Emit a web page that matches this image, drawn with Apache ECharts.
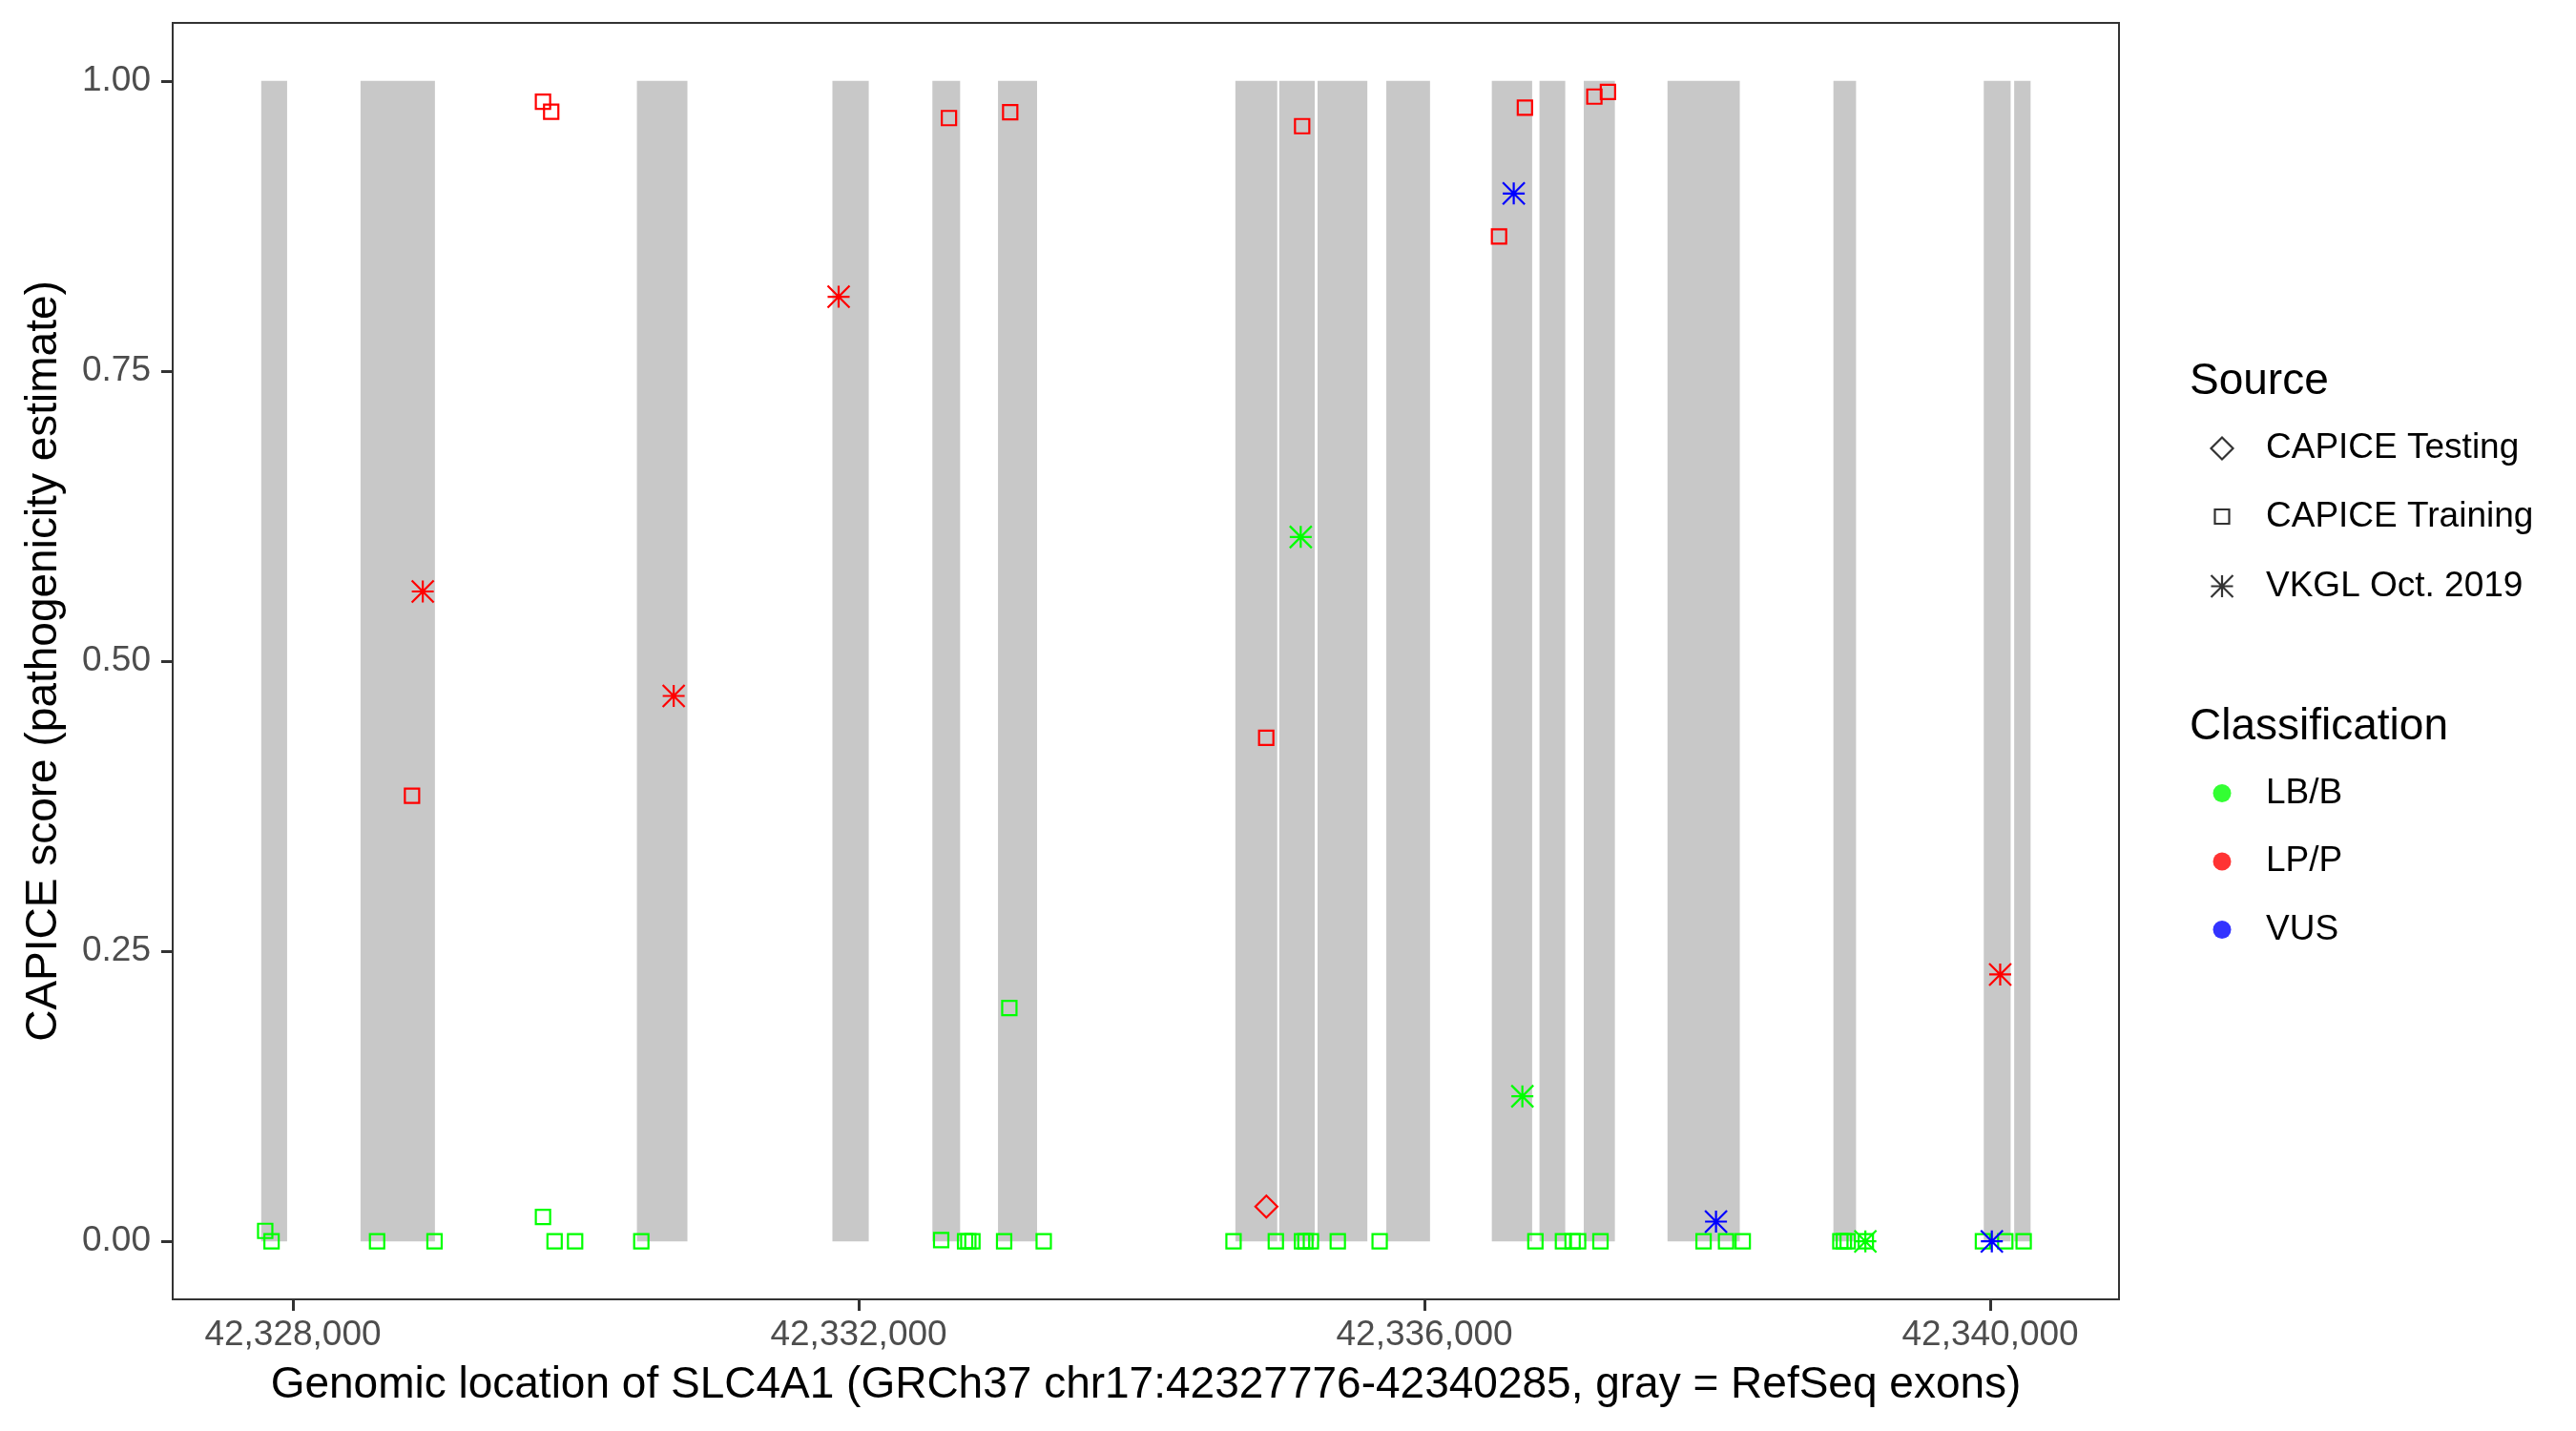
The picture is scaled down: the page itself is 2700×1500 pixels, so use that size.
<!DOCTYPE html>
<html>
<head>
<meta charset="utf-8">
<script src="https://cdn.jsdelivr.net/npm/echarts@6/dist/echarts.min.js"></script>
<style>
html,body{margin:0;padding:0;background:#ffffff;}
#chart{width:2700px;height:1500px;}
</style>
</head>
<body>
<div id="chart"></div>
<script>
// ---------------- data ----------------
const exonStarts = [42327776, 42328478, 42330432, 42331814, 42332521, 42332985, 42334663, 42334973, 42335244, 42335730, 42336476, 42336813, 42337126, 42337718, 42338891, 42339954, 42340169];
const exonEnds   = [42327959, 42329004, 42330789, 42332071, 42332717, 42333261, 42334959, 42335224, 42335596, 42336039, 42336761, 42336995, 42337346, 42338229, 42339051, 42340144, 42340285];

// CAPICE Training, LB/B
const trainingBenignPos = [42327804, 42327849, 42328595, 42329001, 42329768, 42329850, 42329995, 42330463, 42332583, 42332752, 42332775, 42332804, 42333028, 42333065, 42333308, 42334650, 42334949, 42335134, 42335158, 42335197, 42335387, 42335683, 42336784, 42336979, 42337047, 42337086, 42337244, 42337973, 42338132, 42338250, 42338940, 42338965, 42338992, 42339120, 42339948, 42340106, 42340236];
const trainingBenignScore = [0.009, 0.0, 0.0, 0.0, 0.021, 0.0, 0.0, 0.0, 0.001, 0.0, 0.0, 0.0, 0.0, 0.201, 0.0, 0.0, 0.0, 0.0, 0.0, 0.0, 0.0, 0.0, 0.0, 0.0, 0.0, 0.0, 0.0, 0.0, 0.0, 0.0, 0.0, 0.0, 0.0, 0.0, 0.0, 0.0, 0.0];
// CAPICE Training, LP/P
const trainingPathoPos = [42328842, 42329768, 42329826, 42332638, 42333071, 42334881, 42335135, 42336527, 42336710, 42337201, 42337297];
const trainingPathoScore = [0.384, 0.982, 0.9735, 0.968, 0.973, 0.434, 0.961, 0.866, 0.977, 0.9865, 0.9905];
// CAPICE Testing, LP/P
const testingPathoPos = [42334882];
const testingPathoScore = [0.030];
// VKGL Oct. 2019
const vkglPathoPos = [42328918, 42330692, 42331858, 42340070];
const vkglPathoScore = [0.560, 0.470, 0.814, 0.230];
const vkglBenignPos = [42335125, 42336692, 42339117];
const vkglBenignScore = [0.607, 0.125, 0.0];
const vkglVusPos = [42336631, 42338061, 42340011];
const vkglVusScore = [0.903, 0.017, 0.0];

const xTicks = [42328000, 42332000, 42336000, 42340000];
const yTicks = [0, 0.25, 0.5, 0.75, 1];
const sourceNames = ['CAPICE Testing', 'CAPICE Training', 'VKGL Oct. 2019'];
const classNames = ['LB/B', 'LP/P', 'VUS'];

// ---------------- styles ----------------
const FONT = 'Liberation Sans, Arial, Helvetica, sans-serif';
const GREEN = '#00FF00', RED = '#FF0000', BLUE = '#0000FF';
const ASTERISK = 'path://M10,0L10,20M0,10L20,10M0,0L20,20M0,20L20,0';
const DIAMOND_PATH = 'path://M10,0L20,10L10,20L0,10Z';
const SQUARE_PATH = 'path://M0,0L20,0L20,20L0,20Z';
const SW = 2.2;

function zip(a, b) { return a.map((v, i) => [v, b[i]]); }

function hollow(name, symbol, size, color, pos, score) {
  return {
    type: 'scatter', name: name, symbol: symbol, symbolSize: size,
    data: zip(pos, score), silent: true, z: 3,
    itemStyle: { color: 'rgba(0,0,0,0)', borderColor: color, borderWidth: SW, opacity: 1 },
    emphasis: { disabled: true }
  };
}

const exonSeries = {
  type: 'custom', name: 'exons', silent: true, z: 1,
  data: zip(exonStarts, exonEnds),
  encode: { x: [0, 1] },
  renderItem: function (params, api) {
    const p0 = api.coord([api.value(0), 1]);
    const p1 = api.coord([api.value(1), 0]);
    return { type: 'rect', shape: { x: p0[0], y: p0[1], width: p1[0] - p0[0], height: p1[1] - p0[1] }, style: { fill: '#C8C8C8' } };
  }
};

// legend dummy series
const legendSeries = [
  { type: 'scatter', name: 'CAPICE Testing', symbol: DIAMOND_PATH, data: [], itemStyle: { color: 'rgba(0,0,0,0)', borderColor: '#000', borderWidth: SW } },
  { type: 'scatter', name: 'CAPICE Training', symbol: SQUARE_PATH, data: [], itemStyle: { color: 'rgba(0,0,0,0)', borderColor: '#000', borderWidth: SW } },
  { type: 'scatter', name: 'VKGL Oct. 2019', symbol: ASTERISK, data: [], itemStyle: { color: 'rgba(0,0,0,0)', borderColor: '#000', borderWidth: SW } },
  { type: 'scatter', name: 'LB/B', symbol: 'circle', data: [], itemStyle: { color: GREEN } },
  { type: 'scatter', name: 'LP/P', symbol: 'circle', data: [], itemStyle: { color: RED } },
  { type: 'scatter', name: 'VUS', symbol: 'circle', data: [], itemStyle: { color: BLUE } }
];

function legendItem(name, icon, iconSize, centerY, hollowIcon) {
  const outer = iconSize + (hollowIcon ? SW : 0);
  return {
    orient: 'horizontal', padding: 0, selectedMode: false,
    left: 2329 - outer / 2, top: centerY - 15,
    itemWidth: 82, itemHeight: iconSize, symbolKeepAspect: true,
    data: [{ name: name, icon: icon }],
    itemStyle: hollowIcon ? { color: 'rgba(0,0,0,0)', borderColor: '#000', borderWidth: SW } : { borderWidth: 0 },
    textStyle: { fontSize: 37, color: '#000', fontFamily: FONT }
  };
}

const option = {
  backgroundColor: '#ffffff',
  animation: false,
  textStyle: { fontFamily: FONT },
  title: [
    { text: 'Source', left: 2295, top: 377, padding: 0, textStyle: { fontSize: 46, fontWeight: 'normal', color: '#000', fontFamily: FONT } },
    { text: 'Classification', left: 2295, top: 739, padding: 0, textStyle: { fontSize: 46, fontWeight: 'normal', color: '#000', fontFamily: FONT } }
  ],
  legend: [
    legendItem(sourceNames[0], DIAMOND_PATH, 23, 466.5, true),
    legendItem(sourceNames[1], SQUARE_PATH, 15, 538, true),
    legendItem(sourceNames[2], ASTERISK, 23, 611, true),
    legendItem(classNames[0], 'circle', 19, 828, false),
    legendItem(classNames[1], 'circle', 19, 899.5, false),
    legendItem(classNames[2], 'circle', 19, 971, false)
  ],
  grid: {
    left: 181, top: 24, width: 2040, height: 1338,
    show: true, borderColor: '#333333', borderWidth: 2, backgroundColor: 'rgba(0,0,0,0)', z: 10
  },
  xAxis: {
    type: 'value', min: 42327150, max: 42340910, position: 'bottom',
    name: 'Genomic location of SLC4A1 (GRCh37 chr17:42327776-42340285, gray = RefSeq exons)',
    nameLocation: 'middle', nameGap: 67,
    nameTextStyle: { fontSize: 46, color: '#000', fontFamily: FONT },
    axisLine: { show: true, onZero: false, lineStyle: { color: '#333333', width: 2 } },
    splitLine: { show: false },
    axisTick: { show: true, inside: false, customValues: xTicks, length: 12, lineStyle: { color: '#333333', width: 3 } },
    axisLabel: { customValues: xTicks, margin: 19, fontSize: 37, color: '#4D4D4D', fontFamily: FONT,
      formatter: v => Number(v).toLocaleString('en-US') }
  },
  yAxis: {
    type: 'value', min: -0.05, max: 1.05, position: 'left',
    name: 'CAPICE score (pathogenicity estimate)',
    nameLocation: 'middle', nameGap: 112, nameRotate: 90,
    nameTextStyle: { fontSize: 46, color: '#000', fontFamily: FONT },
    axisLine: { show: true, onZero: false, lineStyle: { color: '#333333', width: 2 } },
    splitLine: { show: false },
    axisTick: { show: true, inside: false, customValues: yTicks, length: 12, lineStyle: { color: '#333333', width: 3 } },
    axisLabel: { customValues: yTicks, margin: 23, fontSize: 37, color: '#4D4D4D', fontFamily: FONT,
      formatter: v => Number(v).toFixed(2) }
  },
  series: [
    exonSeries,
    hollow('Training LB/B', 'rect', 15, GREEN, trainingBenignPos, trainingBenignScore),
    hollow('Training LP/P', 'rect', 15, RED, trainingPathoPos, trainingPathoScore),
    hollow('Testing LP/P', 'diamond', 23, RED, testingPathoPos, testingPathoScore),
    hollow('VKGL LP/P', ASTERISK, 23, RED, vkglPathoPos, vkglPathoScore),
    hollow('VKGL LB/B', ASTERISK, 23, GREEN, vkglBenignPos, vkglBenignScore),
    hollow('VKGL VUS', ASTERISK, 23, BLUE, vkglVusPos, vkglVusScore)
  ].concat(legendSeries)
};

const chart = echarts.init(document.getElementById('chart'), null, { renderer: 'canvas', width: 2700, height: 1500 });
chart.setOption(option);
</script>
</body>
</html>
